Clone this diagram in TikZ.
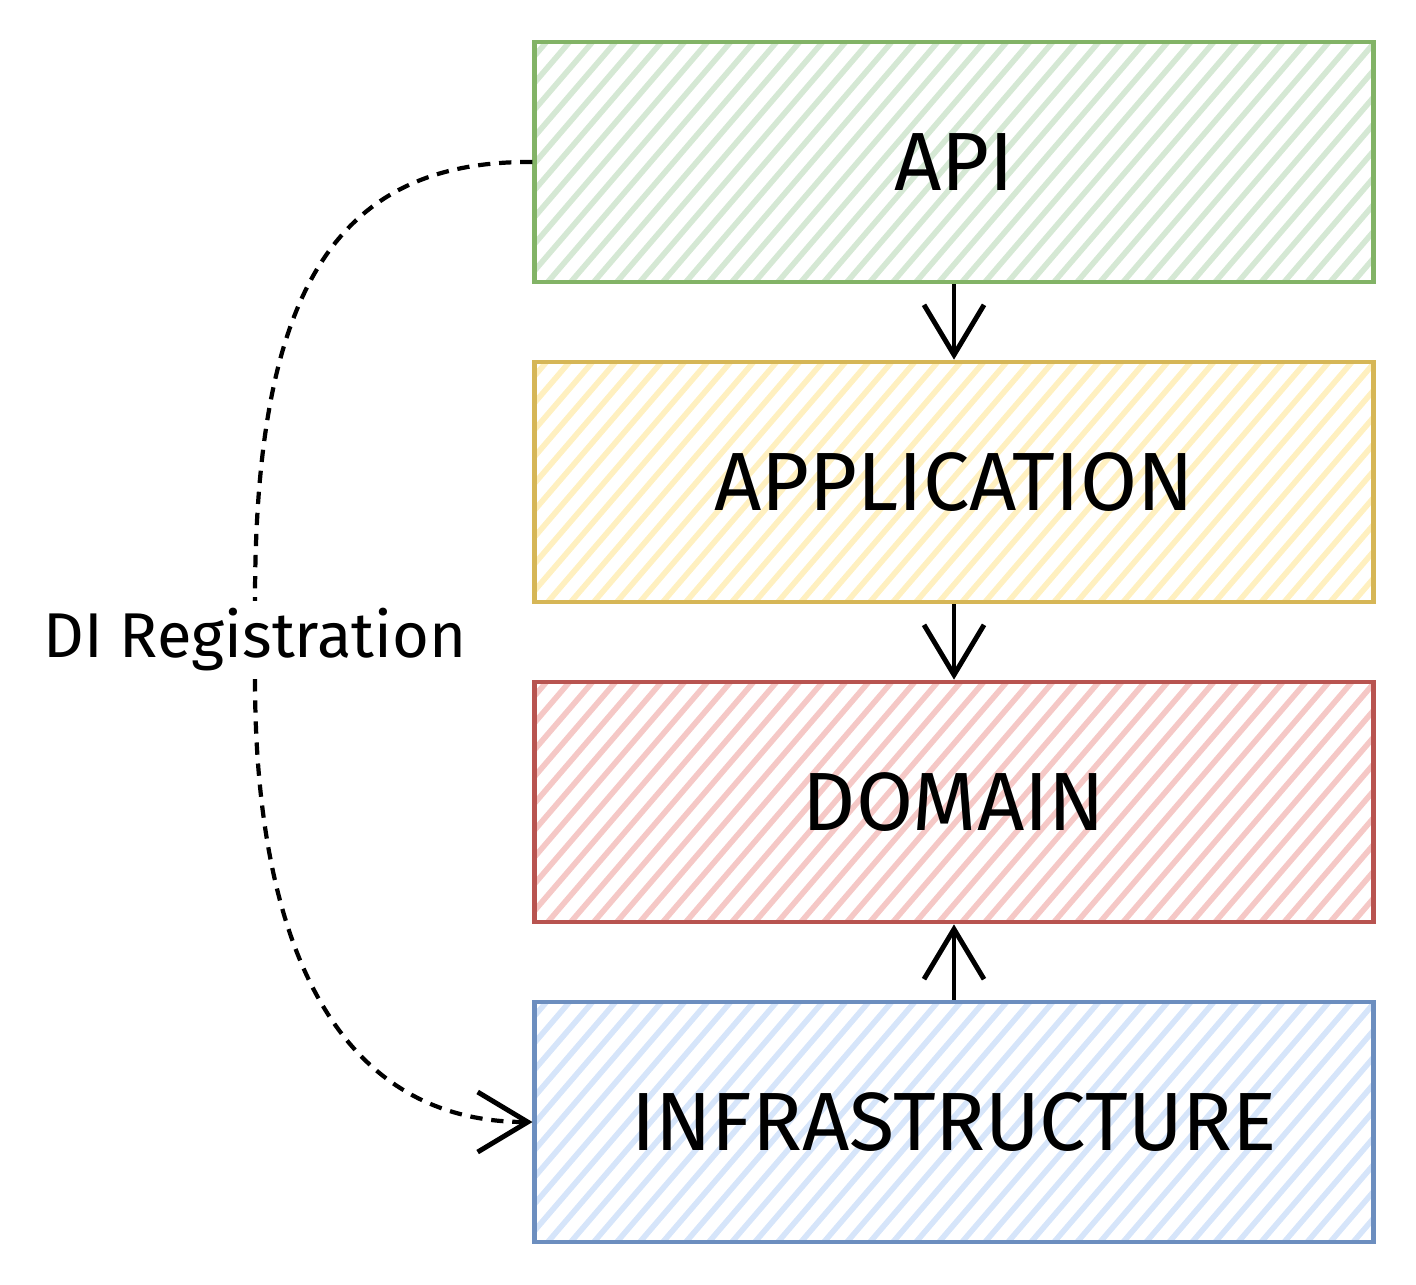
\documentclass[tikz,border=0pt]{standalone}
\usepackage{fontspec}
\setmainfont{Fira Sans}
\usepackage{tikz}
\usetikzlibrary{calc, arrows.meta}

\definecolor{apiline}{HTML}{82B366}
\definecolor{apifill}{HTML}{D5E8D4}
\definecolor{appline}{HTML}{D6B656}
\definecolor{appfill}{HTML}{FFF0C0}
\definecolor{domline}{HTML}{B85450}
\definecolor{domfill}{HTML}{F5C8C6}
\definecolor{infline}{HTML}{6C8EBF}
\definecolor{inffill}{HTML}{D6E5FA}

\tikzset{
	layer/.style 2 args={draw=#1, line width=1.3pt, minimum width=8.38cm, minimum height=2.4cm,
		font=\fontsize{23.5}{28}\selectfont,
		path picture={
			\foreach \k in {0,...,48}
				\draw[#2, line width=1.6pt] ($(path picture bounding box.south west)+(\k*0.23cm-2.4cm,0)$) -- ++(2.4cm,2.8cm);
		}},
	link/.style={line width=1.4pt, -{Straight Barb[length=5mm, width=6mm, line width=1.4pt]}},
	dilink/.style={line width=1.2pt, dash pattern=on 3.5pt off 2.5pt},
}

\begin{document}
\begin{tikzpicture}[x=0.01cm, y=-0.01cm]
	\useasboundingbox (0,0) rectangle (1416,1284);
	\node[layer={apiline}{apifill}] (api) at (954,162) {API};
	\node[layer={appline}{appfill}] (app) at (954,482) {APPLICATION};
	\node[layer={domline}{domfill}] (dom) at (954,802) {DOMAIN};
	\node[layer={infline}{inffill}] (infra) at (954,1122) {INFRASTRUCTURE};
	\draw[link] (api.south) -- (app.north);
	\draw[link] (app.south) -- (dom.north);
	\draw[link] (infra.north) -- (dom.south);
	\node[fill=white, inner sep=2pt, font=\fontsize{18}{22}\selectfont] (di) at (255,640) {DI Registration};
	\draw[dilink] (api.west) .. controls (330,160) and (255,300) .. (di.north);
	\draw[dilink, -{Straight Barb[length=5mm, width=6mm, line width=1.4pt]}] (di.south) .. controls (255,950) and (340,1122) .. (infra.west);
\end{tikzpicture}
\end{document}
